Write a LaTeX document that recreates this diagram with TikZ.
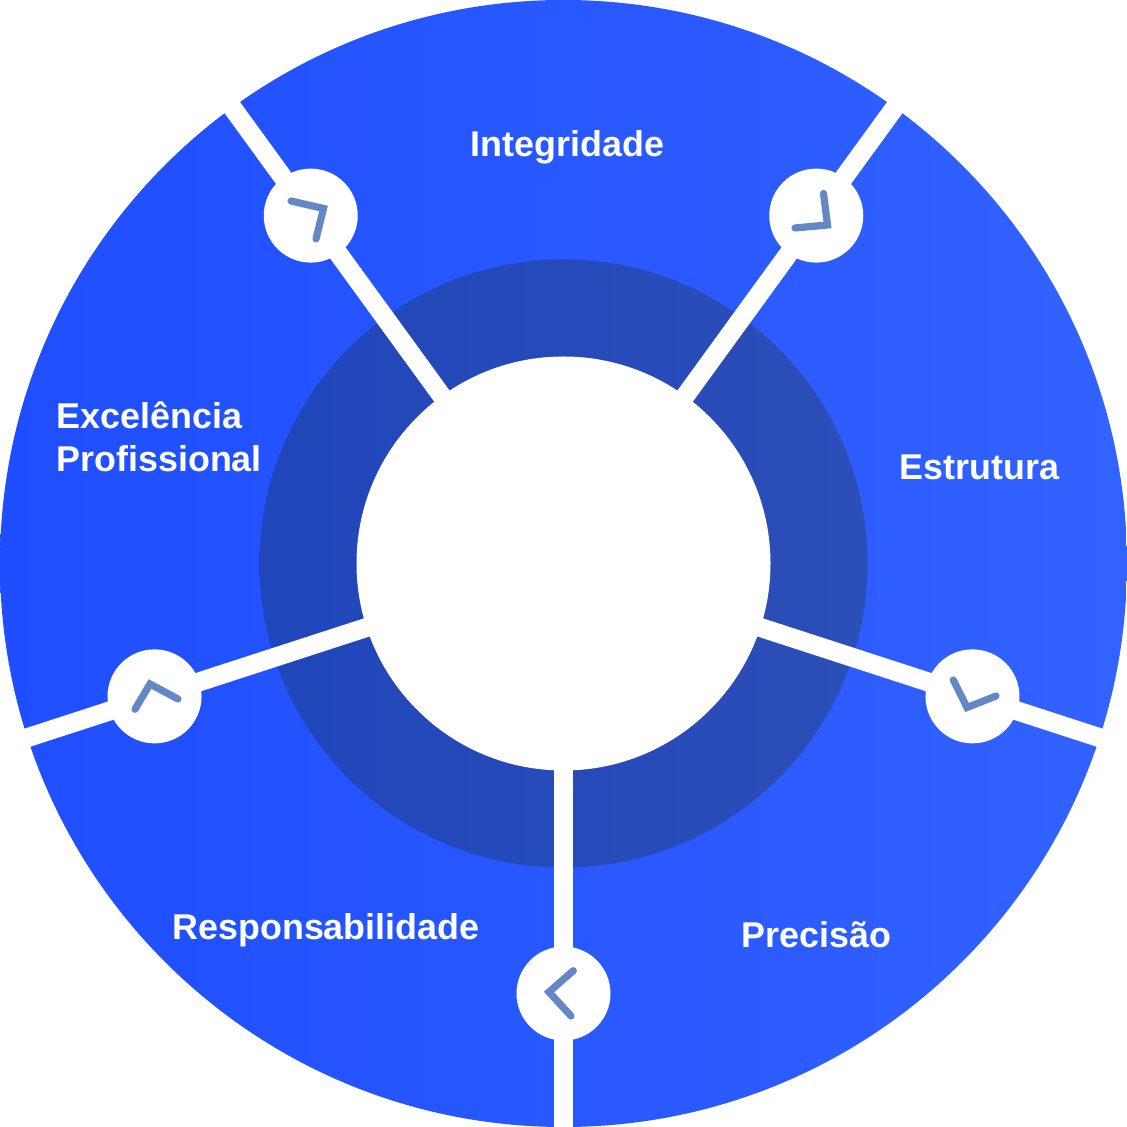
\documentclass[tikz,border=0pt]{standalone}
\usepackage{fontspec}
\setmainfont{Liberation Sans}
\usetikzlibrary{positioning}
\definecolor{discleft}{RGB}{30,78,255}
\definecolor{discright}{RGB}{50,98,255}
\definecolor{ringleft}{RGB}{31,70,186}
\definecolor{ringright}{RGB}{44,78,184}
\definecolor{handcol}{RGB}{100,135,197}

\begin{document}
\begin{tikzpicture}[
    disc/.style={circle, inner sep=0pt, outer sep=0pt},
    spoke/.style={line width=0.19cm, white},
    knob/.style={circle, fill=white, inner sep=0pt, outer sep=0pt, minimum size=0.94cm},
    hand/.style={line width=0.072cm, handcol, line cap=round, line join=miter},
    lbl/.style={text=white, font=\fontsize{10.2}{12.2}\selectfont\bfseries, align=left, inner sep=0pt}]

    \useasboundingbox[fill=white] (-5.635,-5.635) rectangle (5.635,5.635);

    % Discs
    \node[disc, left color=discleft, right color=discright, minimum size=11.27cm] (outer) at (0,0) {};
    \node[disc, left color=ringleft, right color=ringright, minimum size=6.08cm] (ring) at (0,0) {};
    \node[disc, fill=white, minimum size=4.14cm] (hub) at (0,0) {};

    % Spoke ends
    \coordinate (rim1) at (54:5.64);
    \coordinate (rim2) at (126:5.64);
    \coordinate (rim3) at (198:5.64);
    \coordinate (rim4) at (270:5.635);
    \coordinate (rim5) at (342:5.64);

    % Spokes
    \draw[spoke] (hub.center) -- (rim1);
    \draw[spoke] (hub.center) -- (rim2);
    \draw[spoke] (hub.center) -- (rim3);
    \draw[spoke] (hub.center) -- (rim4);
    \draw[spoke] (hub.center) -- (rim5);

    % Knobs
    \node[knob] (knob1) at (54:4.3) {};
    \node[knob] (knob2) at (126:4.3) {};
    \node[knob] (knob3) at (198:4.3) {};
    \node[knob] (knob4) at (270:4.3) {};
    \node[knob] (knob5) at (342:4.3) {};

    % Hands
    \draw[hand] (2.60,3.70) -- (2.64,3.385) -- (2.315,3.355);
    \draw[hand] (-2.725,3.625) -- (-2.40,3.55) -- (-2.475,3.245);
    \draw[hand] (-4.285,-1.458) -- (-4.135,-1.205) -- (-3.855,-1.355);
    \draw[hand] (0.098,-4.072) -- (-0.145,-4.285) -- (0.075,-4.525);
    \draw[hand] (3.898,-1.165) -- (4.035,-1.44) -- (4.325,-1.325);

    % Labels
    \node[lbl] (integridade) at (0.04,4.165) {Integridade};
    \node[lbl] (estrutura) at (4.16,0.965) {Estrutura};
    \node[lbl] (precisao) at (2.53,-3.71) {Precisão};
    \node[lbl] (responsabilidade) at (-2.375,-3.665) {Responsabilidade};
    \node[lbl, anchor=west] (excelencia) at (-5.075,1.265) {Excelência\\Profissional};

\end{tikzpicture}
\end{document}
